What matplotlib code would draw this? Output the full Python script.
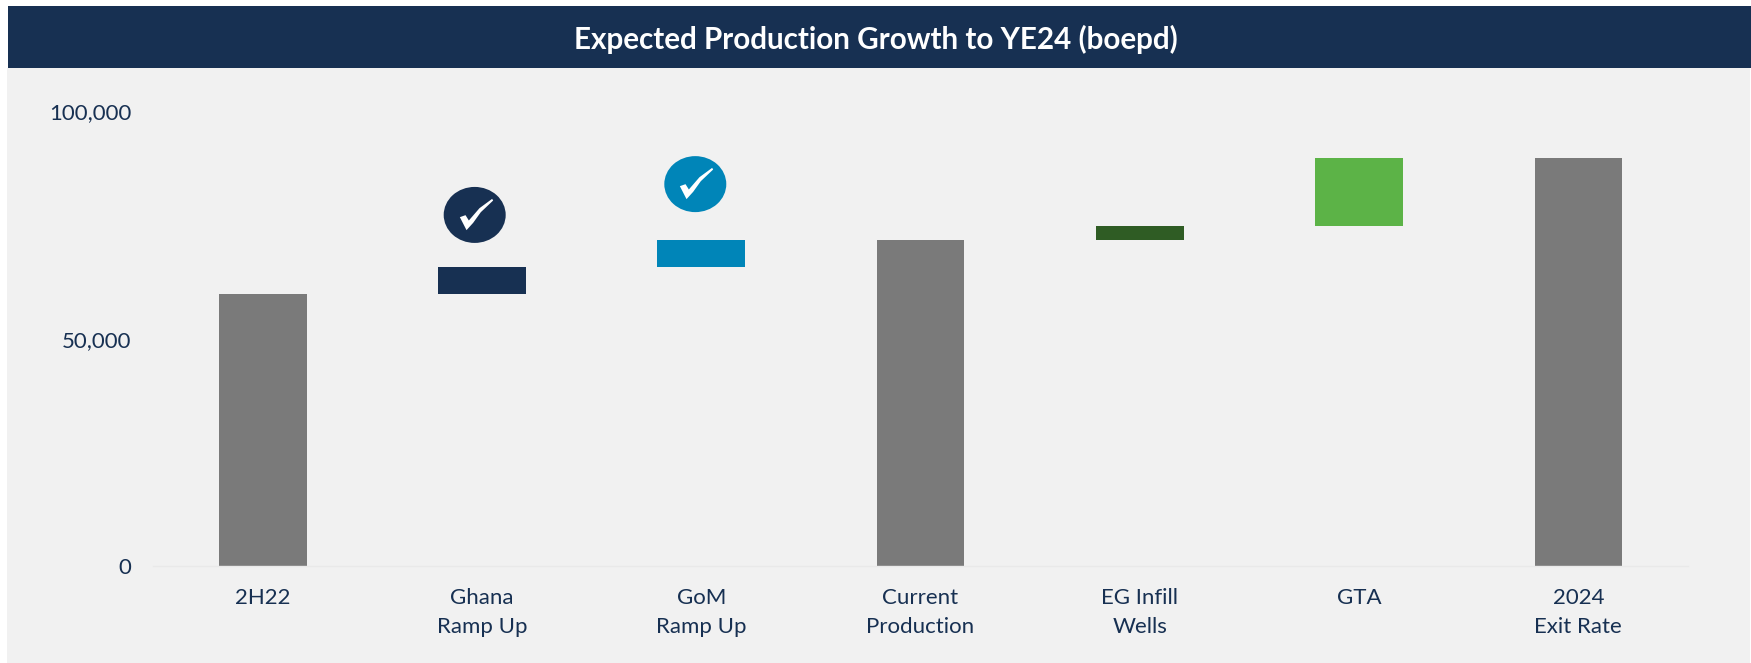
import matplotlib
matplotlib.use('Agg')
import matplotlib.pyplot as plt
from matplotlib.patches import Ellipse, Rectangle
from matplotlib.path import Path
from matplotlib.ticker import FuncFormatter
from matplotlib.transforms import ScaledTranslation

W, H = 1751, 663

categories = ['2H22', 'Ghana\nRamp Up', 'GoM\nRamp Up', 'Current\nProduction',
              'EG Infill\nWells', 'GTA', '2024\nExit Rate']
bottoms = [0, 60000, 66000, 0, 72000, 75000, 0]
heights = [60000, 6000, 6000, 72000, 3000, 15000, 90000]
colors = ['#7A7A7A', '#173052', '#0085B8', '#7A7A7A', '#2F5C24', '#5CB347', '#7A7A7A']
y_ticks = [0, 50000, 100000]

# check badges sit a little left of their bars
badge_x = [0.967, 1.973]
badge_y = [77500, 84300]
badge_colors = ['#173052', '#0085B8']

NAVY = '#173052'
plt.rcParams['font.family'] = ['Lato', 'DejaVu Sans']

check = Path([(-47, -5), (-30, 1), (-20, -15), (12, 22), (50, 50), (53, 45), (16, 10),
              (-7, -22), (-27, -44), (-47, -5)], closed=True)


def fx(px):
    return px / W


def fy(px):
    return 1 - px / H


fig = plt.figure(figsize=(W / 100, H / 100), dpi=100, facecolor='white')
fig.patches.append(Rectangle((fx(7), 0), fx(1743), fy(68), transform=fig.transFigure,
                             facecolor='#F1F1F1', edgecolor='none', zorder=-2))
fig.patches.append(Rectangle((fx(8), fy(68)), fx(1743), 62 / H, transform=fig.transFigure,
                             facecolor=NAVY, edgecolor='none', zorder=-1))
fig.text(fx(876), fy(39), 'Expected Production Growth to YE24 (boepd)', color='white',
         fontsize=21.3, fontweight='bold', ha='center', va='center')

ax = fig.add_axes([fx(153), fy(566), fx(1535), 453 / H])
ax.patch.set_alpha(0)
ax.bar(range(len(categories)), heights, bottom=bottoms, width=0.4, color=colors)

for x, y, c in zip(badge_x, badge_y, badge_colors):
    ax.add_patch(Ellipse((x, y), 62 / 219.3, 56 / 453 * 100000, facecolor=c, edgecolor='none'))
    ax.plot([x], [y], marker=check, ms=25.4, color='white', mew=0, ls='none')

ax.set_xlim(-0.5, 6.5)
ax.set_ylim(0, 100000)
ax.set_xticks(range(len(categories)))
ax.set_xticklabels(categories, linespacing=1.62)
ax.set_yticks(y_ticks)
ax.yaxis.set_major_formatter(FuncFormatter(lambda v, p: f'{int(v):,}'))
ax.tick_params(axis='x', length=0, pad=15.5, labelsize=16, labelcolor=NAVY)
ax.tick_params(axis='y', length=0, pad=15.5, labelsize=16, labelcolor=NAVY)
top_label = ax.get_yticklabels()[2]
top_label.set_transform(top_label.get_transform() + ScaledTranslation(0, 2 / 100, fig.dpi_scale_trans))
for s in ['top', 'right', 'left']:
    ax.spines[s].set_visible(False)
ax.spines['bottom'].set_color('#E9E9E9')
ax.spines['bottom'].set_linewidth(1)

plt.savefig('out.png', dpi=100)
